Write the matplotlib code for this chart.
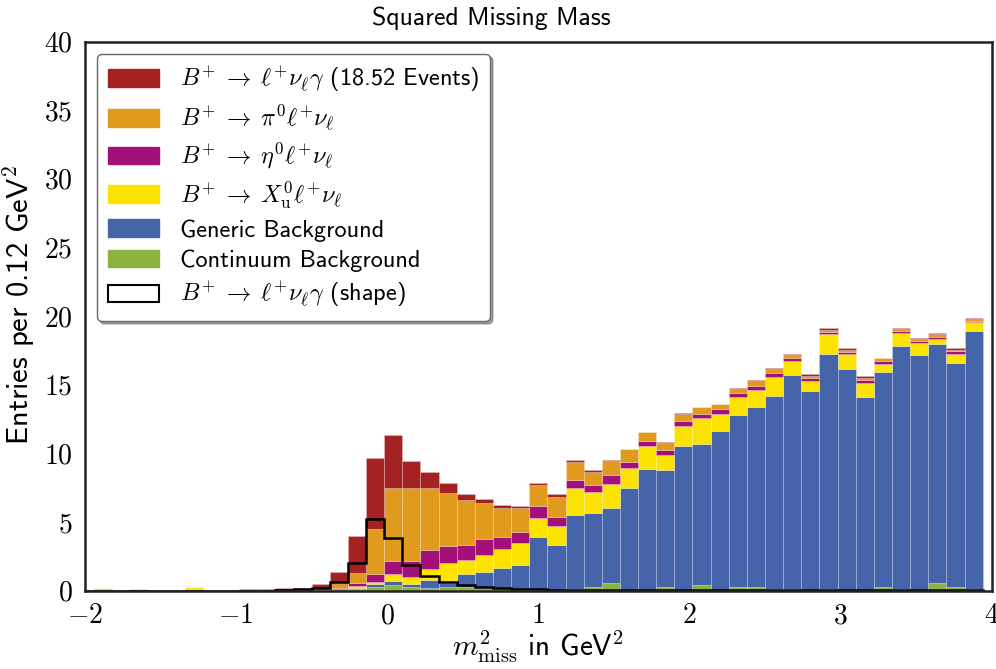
import numpy as np
import matplotlib
matplotlib.use('Agg')
import matplotlib.pyplot as plt
from matplotlib.patches import Patch

# stacked components per bin (bins of 0.12 GeV^2, centred at -2, -1.88, ..., 3.88)
continuum = [0, 0, 0, 0, 0, 0, 0, 0, 0, 0,
             0, 0, 0, 0.02, 0.05, 0.12, 0.29, 0.41, 0.29, 0.17,
             0.29, 0.29, 0.17, 0.17, 0.10, 0.05, 0.05, 0.10, 0.24, 0.58,
             0.07, 0.05, 0.24, 0.05, 0.41, 0.07, 0.24, 0.24, 0.10, 0.10,
             0.02, 0.10, 0.02, 0.02, 0.24, 0.10, 0.02, 0.58, 0.24, 0.10]
generic = [0, 0.10, 0.02, 0.12, 0.03, 0.03, 0.15, 0, 0, 0,
           0, 0.02, 0.03, 0.03, 0.05, 0.10, 0.20, 0.29, 0.17, 0.61,
           0.29, 0.95, 1.21, 1.46, 1.77, 3.88, 3.28, 5.41, 5.39, 5.42,
           7.43, 8.83, 8.52, 10.48, 10.25, 11.56, 12.55, 13.14, 14.10, 15.60,
           14.54, 17.13, 16.12, 14.13, 15.66, 17.72, 17.14, 17.36, 16.36, 18.81]
xu = [0, 0.07, 0.03, 0, 0, 0, 0.14, 0, 0, 0,
      0, 0, 0, 0.02, 0.05, 0.14, 0.17, 0.51, 0.56, 0.80,
      1.46, 0.97, 1.24, 1.38, 1.58, 1.40, 1.35, 1.94, 1.53, 1.77,
      1.41, 1.68, 1.12, 1.48, 1.89, 1.28, 1.34, 1.22, 1.36, 1.07,
      0.73, 1.48, 1.07, 1.02, 0.65, 0.97, 0.90, 0.43, 0.68, 0.70]
eta = [0, 0, 0, 0, 0, 0, 0, 0, 0, 0,
       0, 0, 0, 0.03, 0.07, 0.22, 0.55, 0.93, 1.14, 1.36,
       1.21, 1.12, 1.14, 0.87, 0.85, 0.84, 0.71, 0.61, 0.53, 0.65,
       0.48, 0.36, 0.34, 0.39, 0.31, 0.32, 0.24, 0.30, 0.29, 0.17,
       0.20, 0.17, 0.19, 0.17, 0.20, 0.14, 0.10, 0.15, 0.15, 0.07]
pi0 = [0, 0, 0, 0, 0, 0, 0, 0, 0, 0.05,
       0.05, 0.06, 0.05, 0.07, 0.36, 0.68, 3.26, 5.38, 5.36, 4.58,
       3.89, 3.27, 2.65, 2.16, 1.70, 1.52, 1.47, 1.31, 0.98, 1.05,
       0.90, 0.63, 0.56, 0.51, 0.49, 0.36, 0.34, 0.39, 0.32, 0.22,
       0.19, 0.15, 0.17, 0.19, 0.17, 0.17, 0.17, 0.15, 0.14, 0.10]
signal = [0, 0, 0, 0, 0, 0, 0, 0, 0, 0.05,
          0.05, 0.11, 0.11, 0.32, 0.80, 2.70, 5.21, 3.86, 1.90, 1.12,
          0.68, 0.44, 0.24, 0.22, 0.14, 0.17, 0.16, 0.12, 0.09, 0.09,
          0.07, 0.05, 0.07, 0.05, 0.05, 0.05, 0.05, 0.05, 0.04, 0.07,
          0.10, 0.10, 0.10, 0.08, 0.07, 0.07, 0.07, 0.07, 0.08, 0.07]
# signal shape (black outline)
shape = [0, 0, 0, 0, 0, 0, 0, 0, 0, 0,
         0, 0.03, 0.10, 0.18, 0.60, 1.99, 5.19, 3.81, 1.84, 1.07,
         0.63, 0.39, 0.29, 0.17, 0.12, 0.10, 0.08, 0.06, 0.05, 0.04,
         0.03, 0.03, 0.03, 0.02, 0.02, 0.02, 0.02, 0.02, 0.02, 0.02,
         0.02, 0.02, 0.02, 0.02, 0.02, 0.02, 0.02, 0.02, 0.02, 0.02]

width = 0.12
centers = -2 + width * np.arange(len(generic))
edges = np.append(centers - width / 2, centers[-1] + width / 2)

plt.rcParams['font.family'] = 'cmss10'
plt.rcParams['mathtext.fontset'] = 'cm'
plt.rcParams['axes.unicode_minus'] = False

fig = plt.figure(figsize=(9.96, 6.69), dpi=100)
ax = fig.add_axes([0.0853, 0.117, 0.9104, 0.8207])

arrow = r'B^{+}\;\to\;'
layers = [(continuum, '#8cb43c', 'Continuum Background'),
          (generic, '#4664aa', 'Generic Background'),
          (xu, '#fce300', '$' + arrow + r'X^0_{\rm u} \ell^{+} \nu_\ell$'),
          (eta, '#a3107a', '$' + arrow + r'\eta^0 \ell^{+} \nu_\ell$'),
          (pi0, '#e09a1e', '$' + arrow + r'\pi^0 \ell^{+} \nu_\ell$'),
          (signal, '#a52222', '$' + arrow + r'\ell^{+} \nu_\ell \gamma$ (18.52 Events)')]

bottom = np.zeros(len(generic))
handles = []
for vals, col, lab in layers:
    vals = np.array(vals)
    ax.bar(centers, vals, width=width, bottom=bottom, color=col,
           edgecolor=(1, 1, 1, 0.25), linewidth=0.6)
    handles.append(Patch(facecolor=col, edgecolor=col, label=lab))
    bottom += vals

ax.stairs(shape, edges, color='black', linewidth=1.8)
handles = handles[::-1]
handles.append(Patch(facecolor='white', edgecolor='black', linewidth=1.5,
                     label='$' + arrow + r'\ell^{+} \nu_\ell \gamma$ (shape)'))

ax.set_xlim(-2, 4)
ax.set_ylim(0, 40)
ax.set_xticks([-2, -1, 0, 1, 2, 3, 4])
ax.set_yticks(range(0, 41, 5))
ax.set_xticklabels([f'${v}$' for v in [-2, -1, 0, 1, 2, 3, 4]])
ax.set_yticklabels([f'${v}$' for v in range(0, 41, 5)])
ax.tick_params(length=0, labelsize=20, pad=9)
for s in ax.spines.values():
    s.set_linewidth(1.8)
    s.set_color('#222222')

fig.text(0.493, 0.972, 'Squared Missing Mass', fontsize=18.5, ha='center', va='center')
ax.set_xlabel(r'$m^{2}_{\rm miss}$ in GeV$^{\mathsf{2}}$', fontsize=21, labelpad=0)
ax.set_ylabel(r'Entries per 0.12 GeV$^{\mathsf{2}}$', fontsize=22)
ax.yaxis.set_label_coords(-0.053, 0.52)

leg = ax.legend(handles=handles, loc='upper left', fontsize=17.5, frameon=True,
                fancybox=True, shadow=True, framealpha=1, edgecolor='#666666',
                handlelength=2.1, handleheight=0.75, labelspacing=0.33,
                borderpad=0.45, handletextpad=0.85, borderaxespad=0.5)
leg.get_frame().set_linewidth(1.0)

fig.savefig('out.png', dpi=100)
